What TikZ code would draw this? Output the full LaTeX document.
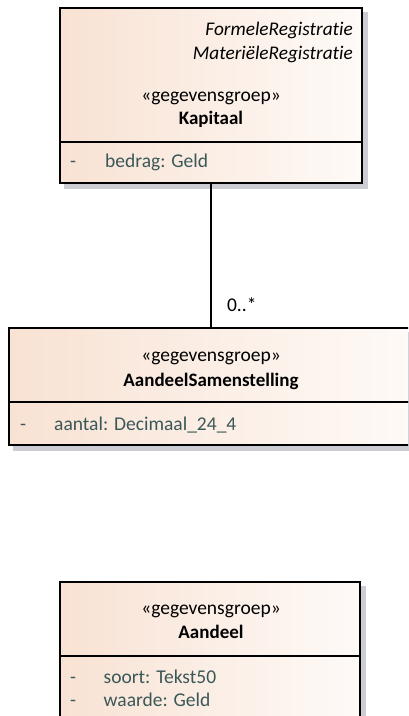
\documentclass[tikz,border=0pt]{standalone}
\usepackage{fontspec}
\setmainfont{Carlito}[Ligatures=NoCommon]
\usetikzlibrary{positioning,backgrounds}

\definecolor{peachleft}{RGB}{248,226,211}
\definecolor{peachright}{RGB}{254,250,247}
\definecolor{shadowgray}{RGB}{204,205,212}
\definecolor{attrcolor}{RGB}{58,88,88}

\begin{document}
\begin{tikzpicture}[
    x=1pt, y=-1pt,
    classbox/.style={rectangle, draw=black, line width=1.3pt, inner sep=0pt,
                     left color=peachleft, right color=peachright},
    headbox/.style={classbox, minimum height=74pt},
    attrbox/.style={classbox},
    txt/.style={inner sep=0pt, anchor=base, font=\fontsize{19.5}{23}\selectfont},
    tagtext/.style={txt, anchor=base east, font=\fontsize{19.3}{23}\selectfont\itshape},
    stereotext/.style={txt},
    nametext/.style={txt, font=\fontsize{19}{23}\selectfont\bfseries},
    attrtext/.style={txt, anchor=base west, text=attrcolor},
    assoc/.style={draw=black, line width=1.1pt},
    shadowfill/.style={fill=shadowgray}
]
\useasboundingbox (0,0) rectangle (408,716);
\clip (0,0) rectangle (408,716);

% Kapitaal
\node[headbox, minimum width=302pt, minimum height=134pt] (kapitaal) at (211,75) {};
\node[attrbox, minimum width=302pt, minimum height=41pt] (kapitaalattr) at (211,162.5) {};
\node[tagtext] (formeel) at (353,35) {FormeleRegistratie};
\node[tagtext] (materieel) at (353,59.5) {MateriëleRegistratie};
\node[stereotext] (kapitaalstereo) at (211,101.7) {«gegevensgroep»};
\node[nametext] (kapitaalname) at (211,124.3) {Kapitaal};
\node[attrtext] (kapitaaldash) at (70,167.7) {-};
\node[attrtext] (bedrag) at (105,167.7) {bedrag: Geld};

% AandeelSamenstelling
\node[headbox, minimum width=404pt] (samenstelling) at (211,365) {};
\node[attrbox, minimum width=404pt, minimum height=43pt] (samenstellingattr) at (211,423.5) {};
\node[stereotext] (samenstellingstereo) at (211,361.7) {«gegevensgroep»};
\node[nametext] (samenstellingname) at (211,386) {AandeelSamenstelling};
\node[attrtext] (samenstellingdash) at (20,430) {-};
\node[attrtext] (aantal) at (54,430) {aantal: Decimaal\_24\_4};

% Aandeel
\node[headbox, minimum width=300pt] (aandeel) at (210,619) {};
\node[attrbox, minimum width=300pt, minimum height=66pt] (aandeelattr) at (210,689) {};
\node[stereotext] (aandeelstereo) at (211,614) {«gegevensgroep»};
\node[nametext] (aandeelname) at (211,638.7) {Aandeel};
\node[attrtext] (soortdash) at (70,683.3) {-};
\node[attrtext] (soort) at (103.5,683.3) {soort: Tekst50};
\node[attrtext] (waardedash) at (70,706.7) {-};
\node[attrtext] (waarde) at (103.5,706.7) {waarde: Geld};

% Association
\draw[assoc] (kapitaalattr.south) -- (samenstelling.north)
    node[txt, anchor=base west, pos=0.888, xshift=15.5pt] (mult) {0..*};

% Shadows
\begin{scope}[on background layer]
\fill[shadowfill] ([xshift=5pt,yshift=-5pt]kapitaal.north west) rectangle ([xshift=5pt,yshift=-5pt]kapitaalattr.south east);
\fill[shadowfill] ([xshift=5pt,yshift=-5pt]samenstelling.north west) rectangle ([xshift=5pt,yshift=-5pt]samenstellingattr.south east);
\fill[shadowfill] ([xshift=5pt,yshift=-5pt]aandeel.north west) rectangle ([xshift=5pt,yshift=-5pt]aandeelattr.south east);
\end{scope}
\end{tikzpicture}
\end{document}
